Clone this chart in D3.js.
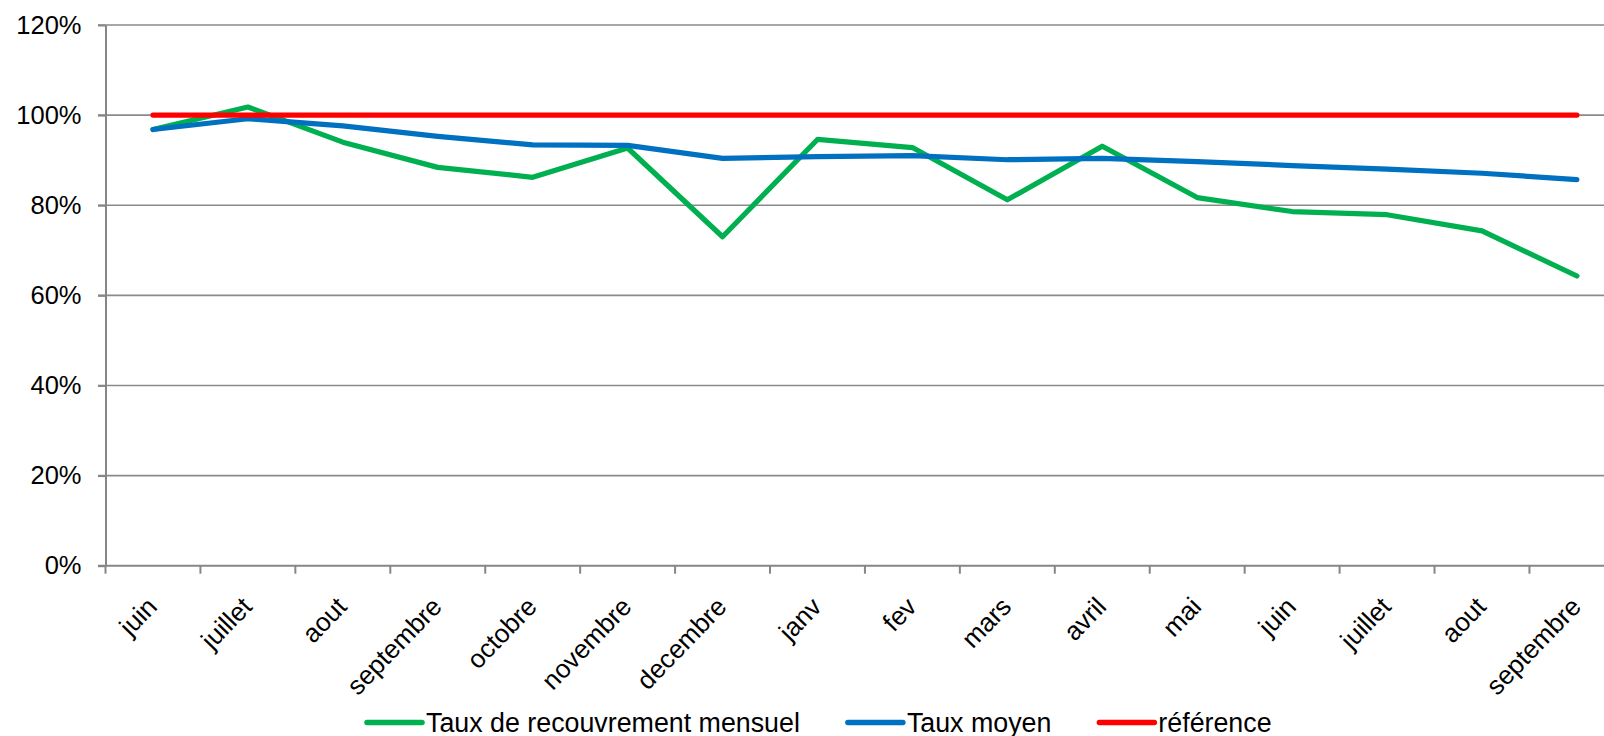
<!DOCTYPE html>
<html>
<head>
<meta charset="utf-8">
<script src="https://cdn.jsdelivr.net/npm/d3@7"></script>
<style>
  body { margin: 0; background: #fff; }
  svg { display: block; font-family: "Liberation Sans", Arial, sans-serif; }
  .grid line { stroke: #8a8a8a; stroke-width: 1.6px; }
  .axis path, .axis line { stroke: #868686; stroke-width: 2px; }
  .axis text { fill: #000; }
</style>
</head>
<body>
<script>
// month labels (two years, so names repeat)
var months = ['juin', 'juillet', 'aout', 'septembre', 'octobre', 'novembre', 'decembre',
  'janv', 'fev', 'mars', 'avril', 'mai', 'juin', 'juillet', 'aout', 'septembre'];

// series values (fractions)
var tauxMensuel = [0.968, 1.018, 0.940, 0.884, 0.862, 0.927, 0.730, 0.946, 0.928, 0.812,
  0.931, 0.817, 0.786, 0.779, 0.743, 0.643];
var tauxMoyen = [0.968, 0.992, 0.976, 0.953, 0.934, 0.933, 0.904, 0.908, 0.910, 0.901,
  0.904, 0.897, 0.888, 0.880, 0.871, 0.857];
var reference = [1, 1, 1, 1, 1, 1, 1, 1, 1, 1, 1, 1, 1, 1, 1, 1];

var yTicks = [0, 0.2, 0.4, 0.6, 0.8, 1.0, 1.2];

var series = [
  { name: 'Taux de recouvrement mensuel', values: tauxMensuel, color: '#00b050' },
  { name: 'Taux moyen', values: tauxMoyen, color: '#0070c0' },
  { name: 'référence', values: reference, color: '#ff0000' }
];

var width = 1604, height = 736;
var plotLeft = 105.5, plotTop = 25, plotBottom = 565.7;
var bandW = 94.93;
var plotRight = plotLeft + bandW * months.length;

var svg = d3.select('body').append('svg')
  .attr('width', width)
  .attr('height', height);

var x = d3.scaleBand()
  .domain(d3.range(months.length))
  .range([plotLeft, plotRight]);

var y = d3.scaleLinear()
  .domain([0, 1.2])
  .range([plotBottom, plotTop]);

var cx = (i) => x(i) + x.bandwidth() / 2;

//horizontal grid lines
svg.append('g')
  .attr('class', 'grid')
  .selectAll('line')
  .data(yTicks.slice(1))
  .enter()
  .append('line')
  .attr('x1', plotLeft - 7.5)
  .attr('x2', plotRight)
  .attr('y1', (d) => y(d))
  .attr('y2', (d) => y(d));

//y axis
var yAxis = svg.append('g')
  .attr('class', 'axis')
  .attr('transform', 'translate(' + plotLeft + ',0)')
  .call(d3.axisLeft(y).tickValues(yTicks).tickFormat(d3.format('.0%')).tickSize(7.5).tickSizeOuter(0));
yAxis.selectAll('text')
  .attr('x', -24)
  .attr('font-size', '25.5px');

//x axis: labels at the category centres, tick marks between categories
var xAxis = svg.append('g')
  .attr('class', 'axis')
  .attr('transform', 'translate(0,' + plotBottom + ')')
  .call(d3.axisBottom(x).tickSize(0).tickSizeOuter(0).tickFormat((d) => months[d]));
xAxis.select('.domain').attr('d', 'M' + (plotLeft - 7.5) + ',0H' + plotRight);
xAxis.selectAll('.tick text')
  .attr('font-size', '26px')
  .attr('text-anchor', 'end')
  .attr('x', 0)
  .attr('y', 0)
  .attr('dy', '0.35em')
  .attr('transform', 'translate(-1,36) rotate(-46)');

xAxis.selectAll('line.sep')
  .data(d3.range(months.length + 1))
  .enter()
  .append('line')
  .attr('class', 'sep')
  .attr('x1', (d) => plotLeft + d * bandW)
  .attr('x2', (d) => plotLeft + d * bandW)
  .attr('y1', 0)
  .attr('y2', 8);

//lines
var line = d3.line()
  .x((d, i) => cx(i))
  .y((d) => y(d));

svg.append('g')
  .selectAll('path')
  .data(series)
  .enter()
  .append('path')
  .attr('d', (s) => line(s.values))
  .attr('fill', 'none')
  .attr('stroke', (s) => s.color)
  .attr('stroke-width', 5.2)
  .attr('stroke-linejoin', 'round')
  .attr('stroke-linecap', 'round');

//legend, laid out left to right
var legend = svg.append('g').attr('transform', 'translate(367,0)');
var pos = 0;
series.forEach((s) => {
  var g = legend.append('g').attr('transform', 'translate(' + pos + ',0)');
  g.append('line')
    .attr('x1', 0).attr('x2', 55)
    .attr('y1', 722.5).attr('y2', 722.5)
    .attr('stroke', s.color)
    .attr('stroke-width', 5.5)
    .attr('stroke-linecap', 'round');
  var t = g.append('text')
    .attr('x', 59)
    .attr('y', 731.7)
    .attr('font-size', '26.8px')
    .text(s.name);
  pos += 59 + t.node().getComputedTextLength() + 48;
});
</script>
</body>
</html>
